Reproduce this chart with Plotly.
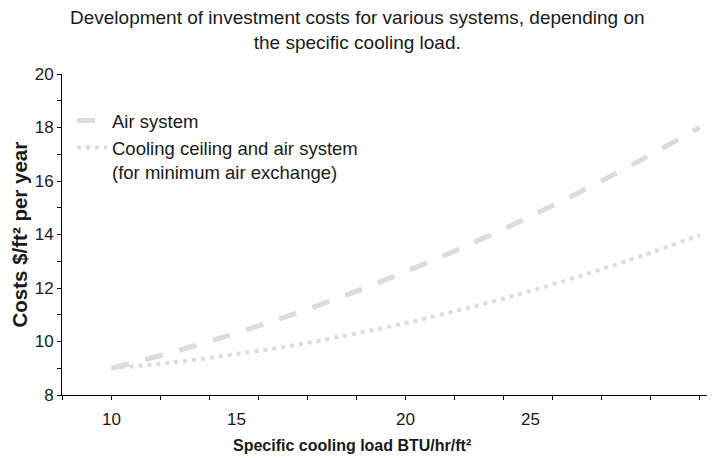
import plotly.graph_objects as go

# Data
cooling_load = [10, 12, 14, 16, 18, 20, 22, 24, 26, 28, 30]
air_system = [9.0, 9.58, 10.23, 10.95, 11.74, 12.61, 13.54, 14.55, 15.63, 16.78, 18.0]
ceiling_air_system = [9.0, 9.21, 9.49, 9.82, 10.23, 10.69, 11.22, 11.81, 12.47, 13.19, 13.98]

x_tick_labels = ["10", "15", "20", "25"]
x_tick_positions = [10, 14.25, 20, 24.25]
y_tick_values = [8, 10, 12, 14, 16, 18, 20]

FONT = "Liberation Sans, Arial, sans-serif"
TEXT = "#1a1a1a"
LINE = "#dcdcdc"

# The page body adds an 8px margin; size the figure so it fills the 717x458 window.
W, H = 709, 450
L, R, T, B = 54, 10, 66, 63
PW, PH = W - L - R, H - T - B


def px_x(x):
    return (x - L) / PW


def px_y(y):
    return (H - B - y) / PH


fig = go.Figure()
fig.add_trace(go.Scatter(
    x=cooling_load, y=air_system, mode="lines", name="Air system",
    line=dict(color=LINE, width=5, dash="18px,17px", shape="spline"),
))
fig.add_trace(go.Scatter(
    x=cooling_load, y=ceiling_air_system, mode="lines",
    name="Cooling ceiling and air system<br>(for minimum air exchange)",
    line=dict(color=LINE, width=4, dash="4px,5px", shape="spline"),
))

fig.update_layout(
    width=W, height=H,
    margin=dict(l=L, r=R, t=T, b=B),
    paper_bgcolor="white", plot_bgcolor="white",
    font=dict(family=FONT, size=17, color=TEXT),
    showlegend=True,
    legend=dict(
        x=px_x(64), xanchor="left", y=px_y(94), yanchor="top",
        bgcolor="rgba(0,0,0,0)", font=dict(size=18.5, color=TEXT),
        itemwidth=30, valign="top",
    ),
)

fig.update_xaxes(
    range=[8.32, 30.25],
    tickmode="array", tickvals=x_tick_positions, ticktext=x_tick_labels,
    ticks="", ticklabelstandoff=9,
    showline=True, linecolor="black", linewidth=1,
    showgrid=False, zeroline=False,
    tickfont=dict(size=17, color=TEXT),
    minor=dict(tick0=10, dtick=5 / 3, ticks="outside", ticklen=4, tickcolor="black", showgrid=False),
)
fig.update_yaxes(
    range=[8, 20],
    tickmode="array", tickvals=y_tick_values,
    ticks="outside", ticklen=4, tickcolor="black",
    showline=True, linecolor="black", linewidth=1,
    showgrid=False, zeroline=False,
    tickfont=dict(size=17, color=TEXT),
    minor=dict(dtick=1, ticks="outside", ticklen=4, tickcolor="black", showgrid=False),
)

# Chart title
fig.add_annotation(
    text="Development of investment costs for various systems, depending on<br>the specific cooling load.",
    xref="paper", yref="paper", x=px_x(349), y=px_y(21.5),
    xanchor="center", yanchor="middle", showarrow=False,
    font=dict(size=19, color=TEXT),
)
# Axis titles
fig.add_annotation(
    text="<b>Specific cooling load BTU/hr/ft²</b>", xref="paper", yref="paper",
    x=px_x(344), y=px_y(438), xanchor="center", yanchor="middle",
    showarrow=False, font=dict(size=16, color=TEXT),
)
fig.add_annotation(
    text="<b>Costs $/ft² per year</b>", xref="paper", yref="paper",
    x=px_x(11), y=0.5, xanchor="center", yanchor="middle", textangle=-90,
    showarrow=False, font=dict(size=20.5, color=TEXT),
)

fig.write_html("out.html")
